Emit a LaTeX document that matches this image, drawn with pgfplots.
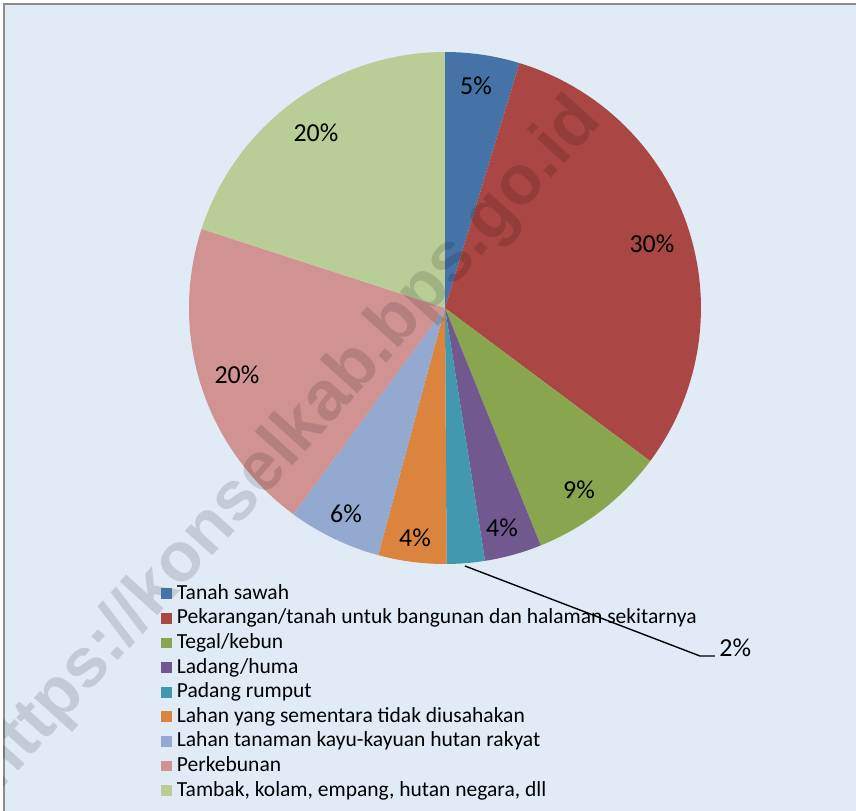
\documentclass[border=0pt]{standalone}
\usepackage{pgfplots}
\pgfplotsset{compat=1.18}
\usepackage{fontspec}
\setmainfont{Carlito}
\newfontfamily\wmfont{Liberation Sans}
\definecolor{bgc}{HTML}{E1EBF6}
\definecolor{cA}{HTML}{4572A7}
\definecolor{cB}{HTML}{AA4643}
\definecolor{cC}{HTML}{89A54E}
\definecolor{cD}{HTML}{71588F}
\definecolor{cE}{HTML}{4198AF}
\definecolor{cF}{HTML}{DB843D}
\definecolor{cG}{HTML}{93A9CF}
\definecolor{cH}{HTML}{D19392}
\definecolor{cI}{HTML}{B9CD96}
% slice values (percent), clockwise from 12 o'clock
\def\vA{4.7}\def\vB{30.5}\def\vC{8.7}\def\vD{3.6}\def\vE{2.4}
\def\vF{4.3}\def\vG{5.9}\def\vH{19.9}\def\vI{20.0}
\pgfmathsetmacro\aA{0}
\pgfmathsetmacro\aB{\aA+3.6*\vA}
\pgfmathsetmacro\aC{\aB+3.6*\vB}
\pgfmathsetmacro\aD{\aC+3.6*\vC}
\pgfmathsetmacro\aE{\aD+3.6*\vD}
\pgfmathsetmacro\aF{\aE+3.6*\vE}
\pgfmathsetmacro\aG{\aF+3.6*\vF}
\pgfmathsetmacro\aH{\aG+3.6*\vG}
\pgfmathsetmacro\aI{\aH+3.6*\vH}
\pgfmathsetmacro\aJ{\aI+3.6*\vI}
\def\cx{445}\def\cy{503}\def\rr{256}
\begin{document}
\begin{tikzpicture}
\useasboundingbox (0,0) rectangle (428bp,405.5bp);
\begin{axis}[
  at={(0,0)}, anchor=origin,
  x=0.5bp, y=0.5bp,
  xmin=0, xmax=856, ymin=0, ymax=811,
  hide axis, clip=false,
  samples=60,
  legend image code/.code={\fill[#1] (0bp,-2.7bp) rectangle (5.5bp,2.7bp);},
  legend cell align=left,
  legend style={at={(axis description cs:0.1875,0.2835)}, anchor=north west,
    draw=none, fill=none, inner sep=0pt,
    font=\fontsize{10.8}{12.25}\selectfont,
    nodes={text height=8bp, text depth=2.5bp, inner sep=0.9bp},
    /tikz/every odd column/.style={column sep=1.6bp}},
]
\fill[white] (axis cs:0,0) rectangle (axis cs:856,811);
\fill[bgc] (axis cs:4,0) rectangle (axis cs:856,807);
\draw[black!45, line width=0.9bp] (axis cs:4,0) -- (axis cs:4,807) -- (axis cs:856,807);

\addplot[fill=cA, draw=none, domain=\aA:\aB] ({\cx+\rr*sin(x)},{\cy+\rr*cos(x)}) -- (axis cs:\cx,\cy) -- cycle;
\addlegendentry{Tanah sawah}
\addplot[fill=cB, draw=none, domain=\aB:\aC] ({\cx+\rr*sin(x)},{\cy+\rr*cos(x)}) -- (axis cs:\cx,\cy) -- cycle;
\addlegendentry{Pekarangan/tanah untuk bangunan dan halaman sekitarnya}
\addplot[fill=cC, draw=none, domain=\aC:\aD] ({\cx+\rr*sin(x)},{\cy+\rr*cos(x)}) -- (axis cs:\cx,\cy) -- cycle;
\addlegendentry{Tegal/kebun}
\addplot[fill=cD, draw=none, domain=\aD:\aE] ({\cx+\rr*sin(x)},{\cy+\rr*cos(x)}) -- (axis cs:\cx,\cy) -- cycle;
\addlegendentry{Ladang/huma}
\addplot[fill=cE, draw=none, domain=\aE:\aF] ({\cx+\rr*sin(x)},{\cy+\rr*cos(x)}) -- (axis cs:\cx,\cy) -- cycle;
\addlegendentry{Padang rumput}
\addplot[fill=cF, draw=none, domain=\aF:\aG] ({\cx+\rr*sin(x)},{\cy+\rr*cos(x)}) -- (axis cs:\cx,\cy) -- cycle;
\addlegendentry{Lahan yang sementara tidak diusahakan}
\addplot[fill=cG, draw=none, domain=\aG:\aH] ({\cx+\rr*sin(x)},{\cy+\rr*cos(x)}) -- (axis cs:\cx,\cy) -- cycle;
\addlegendentry{Lahan tanaman kayu-kayuan hutan rakyat}
\addplot[fill=cH, draw=none, domain=\aH:\aI] ({\cx+\rr*sin(x)},{\cy+\rr*cos(x)}) -- (axis cs:\cx,\cy) -- cycle;
\addlegendentry{Perkebunan}
\addplot[fill=cI, draw=none, domain=\aI:\aJ] ({\cx+\rr*sin(x)},{\cy+\rr*cos(x)}) -- (axis cs:\cx,\cy) -- cycle;
\addlegendentry{Tambak, kolam, empang, hutan negara, dll}

% watermark (clipped to the chart area)
\begin{scope}
\clip (axis cs:4,0) rectangle (axis cs:856,807);
\node[rotate=48, text=black, text opacity=0.13, font=\wmfont\bfseries\fontsize{35}{35}\selectfont]
  at (axis cs:288,366) {https://konselkab.bps.go.id};
\end{scope}

% data labels
\begin{scope}[every node/.style={font=\fontsize{13}{14}\selectfont, inner sep=0pt}]
\node at (axis cs:476,725) {5\%};
\node at (axis cs:652,567) {30\%};
\node at (axis cs:579,321) {9\%};
\node at (axis cs:502,283) {4\%};
\node[anchor=west] at (axis cs:719,163) {2\%};
\node at (axis cs:415,273) {4\%};
\node at (axis cs:346,297) {6\%};
\node at (axis cs:237,436) {20\%};
\node at (axis cs:316,678) {20\%};
\end{scope}
\draw[black, line width=0.7bp] (axis cs:465,245) -- (axis cs:700,155) -- (axis cs:715,155);
\end{axis}
\end{tikzpicture}
\end{document}
